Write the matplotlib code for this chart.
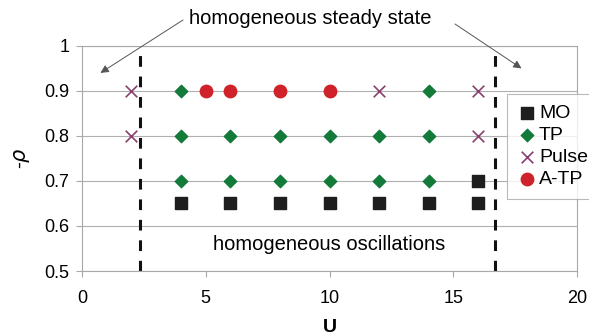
import matplotlib.pyplot as plt

plt.rcParams['font.family'] = ['Liberation Sans', 'DejaVu Sans']

# values
mo_u = [4, 6, 8, 10, 12, 14, 16, 16]
mo_rho = [0.65, 0.65, 0.65, 0.65, 0.65, 0.65, 0.65, 0.7]
tp_u = [4, 14, 4, 6, 8, 10, 12, 14, 4, 6, 8, 10, 12, 14]
tp_rho = [0.9, 0.9, 0.8, 0.8, 0.8, 0.8, 0.8, 0.8, 0.7, 0.7, 0.7, 0.7, 0.7, 0.7]
pulse_u = [2, 2, 12, 16, 16]
pulse_rho = [0.9, 0.8, 0.9, 0.9, 0.8]
atp_u = [5, 6, 8, 10]
atp_rho = [0.9, 0.9, 0.9, 0.9]
boundaries = [2.35, 16.7]

fig = plt.figure(figsize=(5.89, 3.35), dpi=100)
ax = fig.add_axes([0.139, 0.191, 0.841, 0.672])

ax.set_axisbelow(True)
ax.grid(True, axis="y", color="#b0b0b0", lw=0.8)
for s in ax.spines.values():
    s.set_color("#a8a8a8")
    s.set_linewidth(0.8)

for b in boundaries:
    ax.axvline(b, color="#111111", ls=(0, (3.5, 3.2)), lw=2.2)

ax.scatter(mo_u, mo_rho, marker="s", s=70, color="#1e1e1e", label="MO", zorder=3)
ax.scatter(tp_u, tp_rho, marker="D", s=40, color="#137a3a", label="TP", zorder=3)
ax.scatter(pulse_u, pulse_rho, marker="x", s=70, color="#8a3f6e", lw=1.2, label="Pulse", zorder=3)
ax.scatter(atp_u, atp_rho, marker="o", s=80, color="#d0222a", label="A-TP", zorder=3)

ax.set_xlim(0, 20)
ax.set_ylim(0.5, 1)
ax.set_xticks([0, 5, 10, 15, 20])
ax.set_yticks([0.5, 0.6, 0.7, 0.8, 0.9, 1])
ax.set_yticklabels(["0.5", "0.6", "0.7", "0.8", "0.9", "1"])
ax.tick_params(axis="both", labelsize=13, color="#a8a8a8", length=4)
ax.tick_params(axis="y", pad=5)
ax.tick_params(axis="x", pad=10)
ax.set_xlabel("U", fontsize=14, fontweight="bold", labelpad=8)
ax.set_ylabel(r"-$\rho$", fontsize=15, labelpad=9)

ax.text(10, 0.558, "homogeneous oscillations", ha="center", va="center", fontsize=14.5)

fig.text(310 / 589, 1 - 19 / 335, "homogeneous steady state", ha="center", va="center",
         fontsize=14.5)
arrow = dict(arrowstyle="-|>", color="#555555", lw=0.7, mutation_scale=12,
             shrinkA=0, shrinkB=0)
ax.annotate("", xy=(0.75, 0.94), xycoords="data", xytext=(183 / 589, 1 - 20 / 335),
            textcoords="figure fraction", arrowprops=arrow)
ax.annotate("", xy=(17.75, 0.95), xycoords="data", xytext=(455 / 589, 1 - 24 / 335),
            textcoords="figure fraction", arrowprops=arrow)

leg = ax.legend(loc="upper left", bbox_to_anchor=(507 / 589, 1 - 94 / 335),
                bbox_transform=fig.transFigure, fontsize=14, frameon=True,
                fancybox=False, edgecolor="#a8a8a8", handletextpad=0.1,
                handlelength=1.0, borderpad=0.55, labelspacing=0.22,
                borderaxespad=0)
leg.get_frame().set_linewidth(0.8)

fig.savefig("out.png", dpi=100)
